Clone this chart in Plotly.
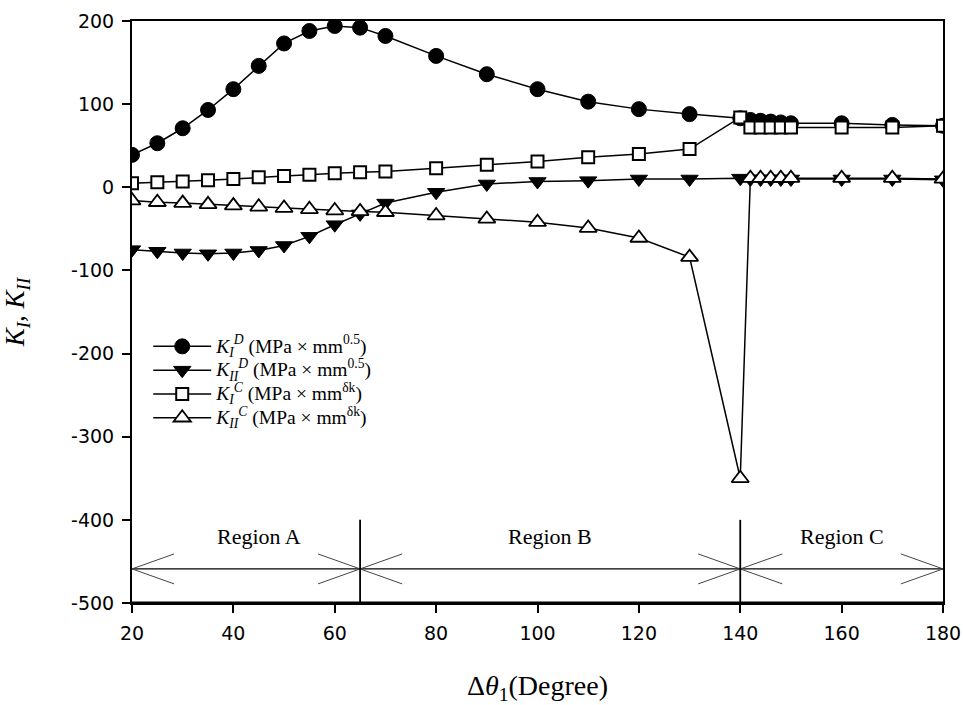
import plotly.graph_objects as go

# ---- data ----
theta = [20, 25, 30, 35, 40, 45, 50, 55, 60, 65, 70, 80, 90, 100, 110, 120, 130,
         140, 142, 144, 146, 148, 150, 160, 170, 180]
KI_D = [39, 53, 71, 93, 118, 146, 173, 188, 194, 192, 182, 158, 136, 118, 103, 94, 88,
        83, 81, 80, 79, 78, 77, 77, 75, 74]
KII_D = [-75, -77, -79, -80, -79, -76, -70, -59, -45, -32, -19, -6, 4, 7, 8, 10, 10,
         11, 10, 10, 10, 10, 10, 10, 10, 9]
KI_C = [5, 6, 7, 8.5, 10, 12, 13.5, 15, 17, 18, 19, 23, 27, 31, 36, 40, 46,
        84, 72, 72, 72, 72, 72, 72, 72, 74]
KII_C = [-16, -18, -19, -20.5, -22, -23.5, -25, -26.5, -28, -29, -30, -34, -38, -42, -49, -61, -84,
         -350, 11, 11, 11, 11, 11, 11, 11, 10]

region_bounds = [20, 65, 140, 180]
region_names = ["Region A", "Region B", "Region C"]
region_label_x = [45, 102.5, 160]
x_ticks = [20, 40, 60, 80, 100, 120, 140, 160, 180]
y_ticks = [200, 100, 0, -100, -200, -300, -400, -500]
y_ticktext = ["200", "100", "0", "-100", "-200", "-300", "-400", "-500"]

SERIF = "Liberation Serif, Times New Roman, serif"
SANS = "DejaVu Sans, Arial, sans-serif"


def leg(sub, sup, expo):
    return ('<span style="font-size:19.5px"><i>K</i><sub><i>%s</i></sub><sup><i>%s</i></sup>'
            ' (MPa × mm<sup>%s</sup>)</span>' % (sub, sup, expo))


fig = go.Figure()

series = [
    (KI_D, leg("I", "D", "0.5"),
     dict(symbol="circle", size=15, color="black", line=dict(color="black", width=1))),
    (KII_D, leg("II", "D", "0.5"),
     dict(symbol="triangle-down", size=15, color="black", line=dict(color="black", width=1))),
    (KI_C, leg("I", "C", "δk"),
     dict(symbol="square", size=12, color="white", line=dict(color="black", width=2))),
    (KII_C, leg("II", "C", "δk"),
     dict(symbol="triangle-up", size=15, color="white", line=dict(color="black", width=1.8))),
]
for ys, name, mk in series:
    fig.add_trace(go.Scatter(x=theta, y=ys, mode="lines+markers", name=name,
                             line=dict(color="black", width=1.5), marker=mk))

# ---- region annotations ----
arrow_y = -459
label_y = -420
sep_top = -400
bottom = -500
shapes = []
annotations = []
head_dx = 8.3
head_dy = 18
for i in range(3):
    a, b = region_bounds[i], region_bounds[i + 1]
    shapes.append(dict(type="line", xref="x", yref="y", x0=a, x1=b, y0=arrow_y, y1=arrow_y,
                       line=dict(color="black", width=1.3)))
    for tip, d in ((a, 1), (b, -1)):
        for s in (1, -1):
            shapes.append(dict(type="line", xref="x", yref="y", x0=tip, y0=arrow_y,
                               x1=tip + d * head_dx, y1=arrow_y + s * head_dy,
                               line=dict(color="#444444", width=1)))
    annotations.append(dict(x=region_label_x[i], y=label_y, xref="x", yref="y",
                            text=region_names[i], showarrow=False,
                            font=dict(family=SERIF, size=22, color="black")))
for xb in region_bounds[1:3]:
    shapes.append(dict(type="line", xref="x", yref="y", x0=xb, x1=xb, y0=bottom, y1=sep_top,
                       line=dict(color="black", width=1.8)))
# thicker bottom axis
shapes.append(dict(type="line", xref="paper", yref="y", x0=0, x1=1, y0=bottom, y1=bottom,
                   line=dict(color="black", width=3)))

fig.update_layout(
    width=963, height=705,
    margin=dict(l=132, r=20, t=21, b=102),
    paper_bgcolor="white", plot_bgcolor="white",
    showlegend=True,
    legend=dict(x=0.02, y=0.47, xanchor="left", yanchor="top",
                bgcolor="rgba(0,0,0,0)", borderwidth=0,
                font=dict(family=SERIF, size=16, color="black"),
                itemwidth=58, tracegroupgap=0),
    shapes=shapes,
    annotations=annotations,
)
fig.update_xaxes(range=[20, 180], tickvals=x_ticks, ticks="outside", ticklen=8, tickwidth=2,
                 tickcolor="black", showline=True, linecolor="black", linewidth=2, mirror=True,
                 showgrid=False, zeroline=False, automargin=False, ticklabelstandoff=4,
                 tickfont=dict(family=SANS, size=19, color="black"),
                 title=dict(text="Δ<i>θ</i><sub>1</sub>(Degree)", standoff=36,
                            font=dict(family=SERIF, size=28, color="black")))
fig.update_yaxes(range=[-500, 200], tickvals=y_ticks, ticktext=y_ticktext, ticks="outside",
                 ticklen=8, tickwidth=2,
                 tickcolor="black", showline=True, linecolor="black", linewidth=2, mirror=True,
                 showgrid=False, zeroline=False, automargin=False, ticklabelstandoff=4,
                 tickfont=dict(family=SANS, size=19, color="black"),
                 title=dict(text="<i>K<sub>I</sub>, K<sub>II</sub></i>", standoff=40,
                            font=dict(family=SERIF, size=27, color="black")))

fig.write_html("out.html", config={"displayModeBar": False},
               post_script="document.body.style.margin='0';")
